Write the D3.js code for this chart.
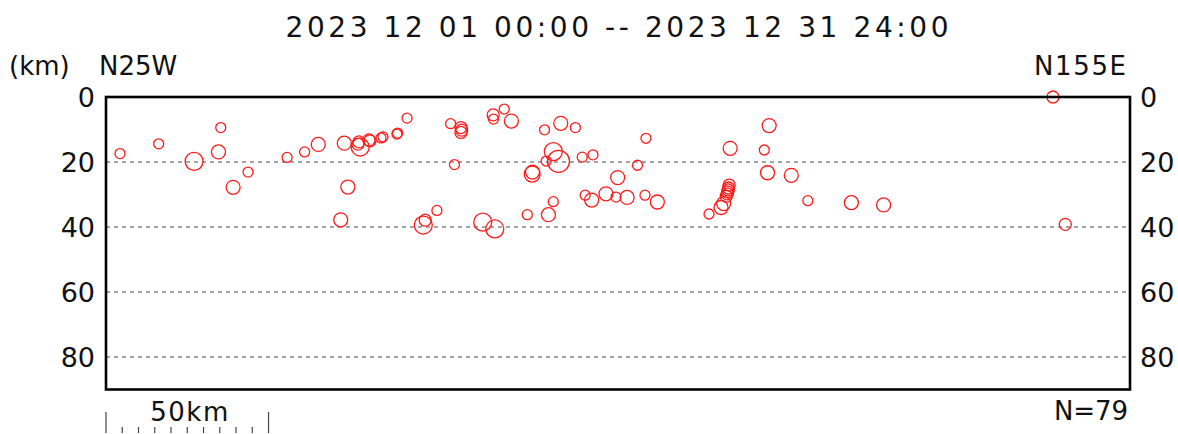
<!DOCTYPE html>
<html><head><meta charset="utf-8">
<script src="https://cdn.jsdelivr.net/npm/d3@7"></script>
<style>body{margin:0;background:#fff}svg text{font-family:"DejaVu Sans",sans-serif;fill:#111}</style>
</head><body><svg id="c" width="1178" height="434"></svg>
<script>
// distance along profile (km), depth (km), magnitude
const distKm = [4.3,16.2,27.1,35.3,34.6,39.1,43.7,55.7,61.1,65.3,73.3,74.4,72.2,78.2,77.8,77.5,80.9,81.2,84.6,85.2,89.5,89.7,92.6,97.6,98.2,101.8,106.0,109.2,109.4,109.2,107.2,119.1,119.2,122.5,124.7,115.9,119.6,129.6,134.9,139.9,144.4,137.6,139.2,135.4,131.1,131.2,146.5,149.8,136.1,137.6,147.4,149.4,153.8,156.9,160.3,157.4,163.5,166.1,165.8,169.6,204.0,192.0,202.5,203.5,210.8,215.9,229.3,239.2,185.5,189.2,190.0,190.8,191.2,191.5,191.7,191.4,191.1,291.3,295.1];
const depthKm = [17.4,14.4,19.8,9.4,16.9,27.8,23.1,18.6,16.9,14.6,14.2,27.7,37.8,15.4,13.8,14.5,13.2,13.5,12.6,12.3,11.4,11.1,6.5,39.4,37.9,34.9,8.2,9.4,10.2,10.9,20.8,5.5,6.8,3.7,7.4,38.5,40.6,36.2,10.1,8.1,9.4,16.8,19.8,19.7,23.7,23.1,18.5,17.8,36.2,32.2,30.2,31.7,29.8,30.8,30.9,24.8,21.0,12.7,30.2,32.3,8.8,15.8,16.3,23.3,24.1,31.9,32.5,33.2,36.0,34.0,32.8,30.5,29.2,28.0,27.1,28.6,29.8,0.0,39.2];
const magnitude = [1.0,1.0,2.6,1.0,1.8,1.8,1.0,1.0,1.0,1.8,1.8,1.8,1.8,2.6,1.4,1.4,1.4,1.4,1.0,1.0,1.0,1.0,1.0,2.6,1.4,1.0,1.0,1.4,1.4,1.4,1.0,1.4,1.0,1.0,1.8,2.6,2.6,1.0,1.0,1.8,1.0,2.6,3.4,1.0,2.2,1.8,1.0,1.0,1.8,1.0,1.0,1.8,1.8,1.0,1.8,1.8,1.0,1.0,1.0,1.8,1.8,1.8,1.0,1.8,1.8,1.0,1.8,1.8,1.0,1.8,1.8,1.4,1.4,1.4,1.4,1.4,1.4,1.4,1.4];
const depthTicks = [0,20,40,60,80];
const gridDepths = [20,40,60,80];
const titleText = "2023 12 01 00:00 -- 2023 12 31 24:00";
const leftDir = "N25W", rightDir = "N155E", unitLabel = "(km)";
const countLabel = "N=" + distKm.length;
const scaleKm = 50, scaleStep = 5;

const svg = d3.select("#c");
const L = 106, R = 1130, T = 97, B = 389.5;
const x = d3.scaleLinear().domain([0, 315]).range([L, R]);
const y = d3.scaleLinear().domain([0, 90]).range([T, B]);
const r = d3.scaleLinear().domain([0, 4]).range([2.5, 12.5]);
const FONT = "DejaVu Sans, sans-serif";

// grid
svg.append("g").selectAll("line").data(gridDepths).join("line")
  .attr("x1", L).attr("x2", R).attr("y1", d => y(d)).attr("y2", d => y(d))
  .attr("stroke", "#4a4a4a").attr("stroke-width", 1.2).attr("stroke-dasharray", "4,4");

// events
svg.append("g").selectAll("circle").data(distKm.map((d,i)=>({x:d,d:depthKm[i],m:magnitude[i]}))).join("circle")
  .attr("cx", d => x(d.x)).attr("cy", d => y(d.d)).attr("r", d => r(d.m))
  .attr("fill", "none").attr("stroke", "#ff1a1a").attr("stroke-width", 1.3);

// frame
svg.append("rect").attr("x", L).attr("y", T).attr("width", R-L).attr("height", B-T)
  .attr("fill", "none").attr("stroke", "#000").attr("stroke-width", 2.6);

// axes labels via d3 axes (no tick lines)
const axL = d3.axisLeft(y).tickValues(depthTicks).tickSize(0).tickPadding(11);
const axR = d3.axisRight(y).tickValues(depthTicks).tickSize(0).tickPadding(10);
const gL = svg.append("g").attr("transform", `translate(${L},0)`).call(axL);
const gR = svg.append("g").attr("transform", `translate(${R},0)`).call(axR);
[gL, gR].forEach(g => {
  g.select(".domain").remove();
  g.selectAll("text").attr("font-size", 27).attr("font-family", FONT).attr("fill", "#111").attr("dy", "0.36em");
});

// title
svg.append("text").attr("x", 617).attr("y", 37).attr("text-anchor", "middle")
  .attr("font-size", 28).attr("textLength", 663).attr("lengthAdjust", "spacing").text(titleText);
svg.append("text").attr("x", 9).attr("y", 75).attr("font-size", 26).text(unitLabel);
svg.append("text").attr("x", 99).attr("y", 75).attr("font-size", 26).text(leftDir);
svg.append("text").attr("x", 1126).attr("y", 75).attr("text-anchor", "end").attr("font-size", 26)
  .attr("textLength", 92).attr("lengthAdjust", "spacing").text(rightDir);
svg.append("text").attr("x", 1128).attr("y", 420).attr("text-anchor", "end").attr("font-size", 26)
  .attr("textLength", 74).attr("lengthAdjust", "spacing").text(countLabel);

// scale bar
const sb = svg.append("g");
sb.selectAll("line").data(d3.range(0, scaleKm + 0.1, scaleStep)).join("line")
  .attr("x1", d => x(d)).attr("x2", d => x(d))
  .attr("y1", d => (d === 0 || d === scaleKm) ? 412 : 427).attr("y2", 433)
  .attr("stroke", "#444").attr("stroke-width", 1.2);
sb.append("text").attr("x", (x(0)+x(scaleKm))/2 + 2).attr("y", 421).attr("text-anchor", "middle")
  .attr("font-size", 26).attr("textLength", 78).attr("lengthAdjust", "spacing").text(scaleKm + "km");
</script></body></html>
